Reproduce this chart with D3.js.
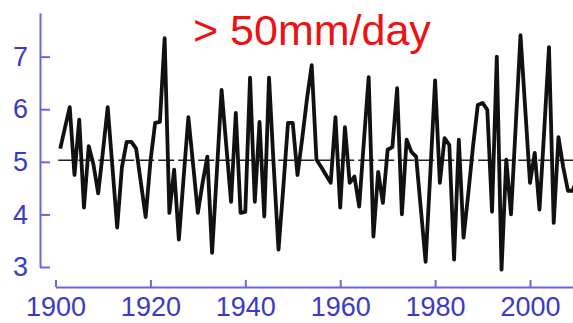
<!DOCTYPE html>
<html>
<head>
<meta charset="utf-8">
<script src="https://cdn.jsdelivr.net/npm/d3@7/dist/d3.min.js"></script>
<style>
  body { margin: 0; background: #fff; }
  svg { display: block; }
</style>
</head>
<body>
<div id="chart"></div>
<script>
// annual count of days > 50mm/day, 1901-2010
const firstYear = 1901;
const dayCounts = [
  5.25, 5.65, 6.04, 4.75, 5.8, 4.13, 5.3, 4.95, 4.4, 5.2,
  6.04, 4.9, 3.75, 4.9, 5.38, 5.38, 5.25, 4.6, 3.95, 5.0,
  5.74, 5.76, 7.35, 4.03, 4.85, 3.52, 4.7, 5.85, 4.95, 4.03,
  4.6, 5.1, 3.27, 4.8, 6.37, 5.3, 4.24, 5.93, 4.03, 4.05,
  6.6, 4.24, 5.76, 3.96, 6.6, 4.9, 3.33, 4.5, 5.74, 5.74,
  4.75, 5.45, 6.2, 6.84, 5.04, 4.9, 4.75, 4.6, 5.85, 4.13,
  5.66, 4.6, 4.72, 4.15, 5.4, 6.61, 3.58, 4.81, 4.22, 5.23,
  5.28, 6.4, 4.0, 5.42, 5.19, 5.1, 4.1, 3.1, 4.8, 6.55,
  4.6, 5.45, 5.32, 3.14, 5.42, 3.56, 4.4, 5.3, 6.08, 6.12,
  5.99, 4.05, 7.0, 2.95, 5.04, 4.0, 5.7, 7.41, 6.0, 4.6,
  5.17, 4.09, 5.6, 7.18, 3.84, 5.47, 4.9, 4.45, 4.45, 4.7
];
const meanCount = 5.03;
const xTickValues = [1900, 1920, 1940, 1960, 1980, 2000];
const yTickValues = [3, 4, 5, 6, 7];
const titleText = '> 50mm/day';

const width = 573, height = 323;
const axisBlue = '#6666dd', labelBlue = '#3a3ac8';

const data = dayCounts.map((v, i) => ({ year: firstYear + i, value: v }));

const svg = d3.select('#chart')
  .append('svg')
  .attr('width', width)
  .attr('height', height);

const x = d3.scaleLinear()
  .domain([1900, 2010])
  .range([55.5, 55.5 + 110 * 4.745]);

const y = d3.scaleLinear()
  .domain([3, 7.83])
  .range([267, 13]);

// y axis, ticks pointing inward
const yAxis = svg.append('g')
  .attr('transform', 'translate(40,0)')
  .call(d3.axisLeft(y)
    .tickValues(yTickValues)
    .tickSizeInner(-10)
    .tickSizeOuter(0)
    .tickPadding(12)
    .tickFormat(d3.format('d')));

// x axis, detached below the plot
const xAxis = svg.append('g')
  .attr('transform', 'translate(0,287)')
  .call(d3.axisBottom(x)
    .tickValues(xTickValues)
    .tickSizeInner(-7)
    .tickSizeOuter(0)
    .tickPadding(10)
    .tickFormat(d3.format('d')));

[yAxis, xAxis].forEach(g => {
  g.select('.domain').attr('stroke', axisBlue).attr('stroke-width', 2);
  g.selectAll('.tick line').attr('stroke', axisBlue).attr('stroke-width', 2);
  g.selectAll('.tick text')
    .attr('fill', labelBlue)
    .style('font-family', '"Liberation Sans", Arial, sans-serif')
    .style('font-size', '27px');
});

// long-term mean (dashed)
svg.append('line')
  .attr('x1', x(firstYear) - 2)
  .attr('x2', width)
  .attr('y1', y(meanCount))
  .attr('y2', y(meanCount))
  .attr('stroke', '#222')
  .attr('stroke-width', 1.6)
  .attr('stroke-dasharray', '16,4');

const line = d3.line()
  .x(d => x(d.year))
  .y(d => y(d.value));

svg.append('path')
  .datum(data)
  .attr('fill', 'none')
  .attr('stroke', '#111')
  .attr('stroke-width', 3.8)
  .attr('stroke-linejoin', 'round')
  .attr('d', line);

// title
svg.append('text')
  .attr('x', 193)
  .attr('y', 45)
  .attr('fill', '#ee1111')
  .style('font-family', '"Liberation Sans", Arial, sans-serif')
  .style('font-size', '43px')
  .text(titleText);
</script>
</body>
</html>
